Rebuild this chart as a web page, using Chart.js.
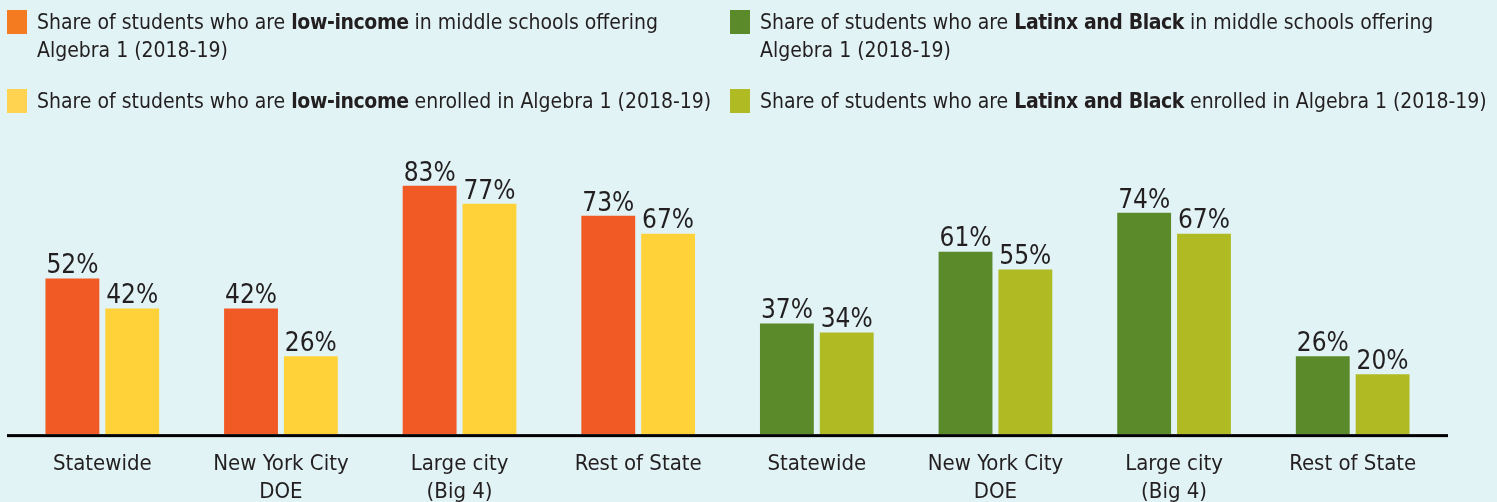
<!DOCTYPE html>
<html>
<head>
<meta charset="utf-8">
<script src="https://cdn.jsdelivr.net/npm/chart.js@4"></script>
<style>
  html, body { margin: 0; padding: 0; background: #e1f3f5; }
  #wrap { position: relative; width: 1497px; height: 502px; overflow: hidden; }
  #chart { position: absolute; left: 0; top: 0; }
  .leg { position: absolute; font-family: "DejaVu Sans Condensed", "Liberation Sans Narrow", sans-serif;
         font-size: 21px; line-height: 28px; color: #231f20; white-space: nowrap; }
  .leg b { letter-spacing: -0.4px; }
  .leg .sw { position: absolute; left: -30px; top: 2px; width: 20px; height: 24px; }
</style>
</head>
<body>
<div id="wrap">
  <canvas id="chart" width="1497" height="502"></canvas>
  <div class="leg" style="left:37px; top:8px;"><span class="sw" style="background:#f47b20"></span>Share of students who are <b>low-income</b> in middle schools offering<br>Algebra 1 (2018-19)</div>
  <div class="leg" style="left:37px; top:87px;"><span class="sw" style="background:#ffd24f"></span>Share of students who are <b>low-income</b> enrolled in Algebra 1 (2018-19)</div>
  <div class="leg" style="left:760px; top:8px;"><span class="sw" style="background:#5b8a2a"></span>Share of students who are <b>Latinx and Black</b> in middle schools offering<br>Algebra 1 (2018-19)</div>
  <div class="leg" style="left:760px; top:87px;"><span class="sw" style="background:#b0bb24"></span>Share of students who are <b>Latinx and Black</b> enrolled in Algebra 1 (2018-19)</div>
</div>
<script>
// categories and values (percent)
const categories = [
  'Statewide', ['New York City', 'DOE'], ['Large city', '(Big 4)'], 'Rest of State',
  'Statewide', ['New York City', 'DOE'], ['Large city', '(Big 4)'], 'Rest of State'
];
const inSchoolsOffering = [52, 42, 83, 73, 37, 61, 74, 26];
const enrolledInAlgebra = [42, 26, 77, 67, 34, 55, 67, 20];

const darkColors = ['#f15a24', '#f15a24', '#f15a24', '#f15a24', '#5b8a2a', '#5b8a2a', '#5b8a2a', '#5b8a2a'];
const lightColors = ['#ffd23a', '#ffd23a', '#ffd23a', '#ffd23a', '#b0bb24', '#b0bb24', '#b0bb24', '#b0bb24'];

const FONT = '"DejaVu Sans Condensed", "Liberation Sans Narrow", sans-serif';

// value labels above bars + baseline rule
const barLabels = {
  id: 'barLabels',
  afterDatasetsDraw(chart) {
    const ctx = chart.ctx;
    ctx.save();
    ctx.font = '26px ' + FONT;
    ctx.fillStyle = '#231f20';
    ctx.textAlign = 'center';
    ctx.textBaseline = 'bottom';
    chart.data.datasets.forEach((ds, i) => {
      chart.getDatasetMeta(i).data.forEach((bar, j) => {
        ctx.fillText(ds.data[j] + '%', bar.x, bar.y + 1);
      });
    });
    const y = chart.scales.y.getPixelForValue(0);
    ctx.fillStyle = '#000';
    ctx.fillRect(chart.chartArea.left - 6, y, chart.chartArea.right - chart.chartArea.left + 12, 3);
    ctx.restore();
  }
};

new Chart(document.getElementById('chart'), {
  type: 'bar',
  data: {
    labels: categories,
    datasets: [
      { label: 'In middle schools offering Algebra 1', data: inSchoolsOffering, backgroundColor: darkColors },
      { label: 'Enrolled in Algebra 1', data: enrolledInAlgebra, backgroundColor: lightColors }
    ]
  },
  options: {
    responsive: false,
    animation: false,
    categoryPercentage: 0.67,
    barPercentage: 0.9,
    layout: { padding: { top: 135, left: 13, right: 55, bottom: -12 } },
    plugins: { legend: { display: false }, tooltip: { enabled: false } },
    scales: {
      x: {
        grid: { display: false },
        border: { display: false },
        ticks: { color: '#231f20', font: { family: FONT, size: 22, lineHeight: 1.27 }, padding: 8, maxRotation: 0, autoSkip: false }
      },
      y: { display: false, min: 0, max: 100 }
    }
  },
  plugins: [barLabels]
});
</script>
</body>
</html>
